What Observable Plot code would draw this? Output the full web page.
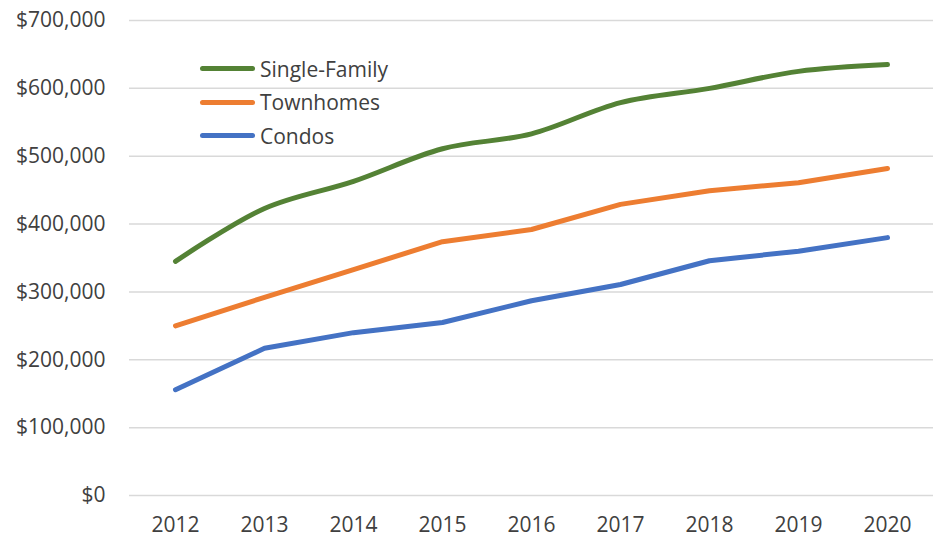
<!DOCTYPE html>
<html>
<head>
<meta charset="utf-8">
<script src="https://cdn.jsdelivr.net/npm/d3@7"></script>
<script src="https://cdn.jsdelivr.net/npm/@observablehq/plot@0.6"></script>
<style>
  html, body { margin: 0; padding: 0; background: #fff; }
  #wrap { position: relative; width: 933px; height: 537px; font-family: "Open Sans", sans-serif; }
  #legend { position: absolute; left: 200px; top: 52px; font-size: 21px; color: #404040; }
  #legend .item { display: flex; align-items: center; height: 33.5px; }
  #legend .sw { width: 55px; height: 5px; border-radius: 3px; margin-right: 5px; }
</style>
</head>
<body>
<div id="wrap"><div id="legend"></div></div>
<script>
const years = ["2012","2013","2014","2015","2016","2017","2018","2019","2020"];
const seriesNames = ["Single-Family", "Townhomes", "Condos"];
const singleFamily = [345000, 423000, 463000, 511000, 533000, 579000, 600000, 625000, 635000];
const townhomes = [250000, 292000, 333000, 374000, 392000, 429000, 449000, 461000, 482000];
const condos = [156000, 217000, 240000, 255000, 287000, 311000, 346000, 360000, 380000];
const colors = ["#548235", "#ED7D31", "#4472C4"];
const yTicks = [0, 100000, 200000, 300000, 400000, 500000, 600000, 700000];

const valuesBySeries = [singleFamily, townhomes, condos];
const data = [];
seriesNames.forEach((s, i) => years.forEach((y, j) => data.push({series: s, year: y, value: valuesBySeries[i][j]})));
const smoothData = data.filter(d => d.series === "Single-Family");
const straightData = data.filter(d => d.series !== "Single-Family");

const fmt = d3.format("$,");
const lineOpts = {x: "year", y: "value", z: "series", stroke: "series", strokeWidth: 5, strokeLinecap: "round", strokeLinejoin: "round"};
const chart = Plot.plot({
  width: 933,
  height: 537,
  marginLeft: 129,
  marginRight: 0,
  marginTop: 20,
  marginBottom: 42,
  style: {fontFamily: "'Open Sans', sans-serif", fontSize: "21px", color: "#404040", background: "#fff"},
  x: {type: "point", domain: years, padding: 0.5, label: null},
  y: {domain: [0, 700000], label: null},
  color: {domain: seriesNames, range: colors},
  marks: [
    Plot.gridY(yTicks, {stroke: "#d9d9d9", strokeOpacity: 1, strokeWidth: 1.5}),
    Plot.axisY(yTicks, {tickSize: 0, tickPadding: 24, tickFormat: fmt, label: null, fill: "#404040"}),
    Plot.axisX(years, {tickSize: 0, tickPadding: 22, label: null, fill: "#404040"}),
    Plot.line(straightData, {...lineOpts, curve: "linear"}),
    Plot.line(smoothData, {...lineOpts, curve: "catmull-rom"})
  ]
});
const wrap = document.getElementById("wrap");
wrap.insertBefore(chart, wrap.firstChild);

const legend = document.getElementById("legend");
seriesNames.forEach((s, i) => {
  const item = document.createElement("div");
  item.className = "item";
  const sw = document.createElement("div");
  sw.className = "sw";
  sw.style.background = colors[i];
  const t = document.createElement("span");
  t.textContent = s;
  item.appendChild(sw);
  item.appendChild(t);
  legend.appendChild(item);
});
</script>
</body>
</html>
